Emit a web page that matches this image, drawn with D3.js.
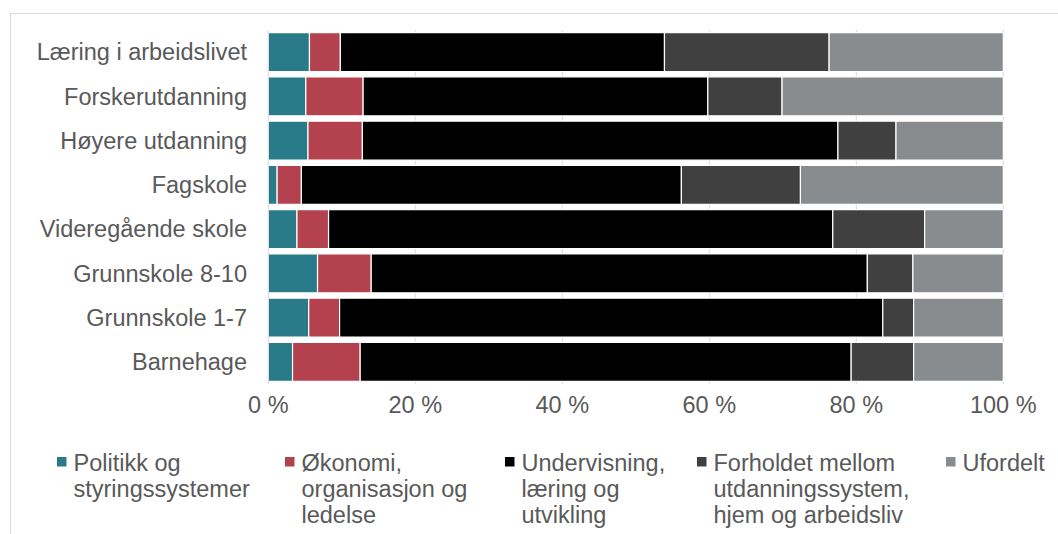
<!DOCTYPE html>
<html>
<head>
<meta charset="utf-8">
<script src="https://cdn.jsdelivr.net/npm/d3@7"></script>
<style>
  body { margin: 0; background: #fff; }
  svg text { font-family: "Liberation Sans", Arial, sans-serif; fill: #595959; }
</style>
</head>
<body>
<svg id="chart" width="1058" height="534"></svg>
<script>
// categories top to bottom
const categories = ['Læring i arbeidslivet', 'Forskerutdanning', 'Høyere utdanning', 'Fagskole',
  'Videregående skole', 'Grunnskole 8-10', 'Grunnskole 1-7', 'Barnehage'];

// share in percent, one array per series
const politikk     = [5.6, 5.1, 5.4, 1.2, 3.9, 6.7, 5.5, 3.3];
const okonomi      = [4.2, 7.8, 7.4, 3.3, 4.3, 7.3, 4.2, 9.2];
const undervisning = [44.1, 46.9, 64.7, 51.7, 68.6, 67.5, 73.9, 66.8];
const forholdet    = [22.4, 10.1, 7.9, 16.2, 12.5, 6.2, 4.2, 8.5];
const ufordelt     = [23.7, 30.1, 14.6, 27.6, 10.7, 12.3, 12.2, 12.2];

const seriesKeys = ['politikk', 'okonomi', 'undervisning', 'forholdet', 'ufordelt'];
const legendLines = [
  ['Politikk og', 'styringssystemer'],
  ['Økonomi,', 'organisasjon og', 'ledelse'],
  ['Undervisning,', 'læring og', 'utvikling'],
  ['Forholdet mellom', 'utdanningssystem,', 'hjem og arbeidsliv'],
  ['Ufordelt']
];
const ticks = [0, 20, 40, 60, 80, 100];

const colors = ['#2a7b8a', '#b3424e', '#000000', '#404040', '#898c8f'];

const table = categories.map((c, i) => ({
  cat: c,
  politikk: politikk[i],
  okonomi: okonomi[i],
  undervisning: undervisning[i],
  forholdet: forholdet[i],
  ufordelt: ufordelt[i]
}));

const svg = d3.select('#chart');

// outer chart frame (runs off the right and bottom)
svg.append('rect')
  .attr('x', 10.5).attr('y', 13.5)
  .attr('width', 1100).attr('height', 600)
  .attr('fill', 'none')
  .attr('stroke', '#d9d9d9');

const x = d3.scaleLinear().domain([0, 100]).range([268.3, 1003.3]);
const y = d3.scaleBand().domain(categories).range([30, 384])
  .paddingInner(0.12).paddingOuter(0.06);

// gridlines
svg.append('g').selectAll('line')
  .data(ticks.slice(1))
  .join('line')
  .attr('x1', d => x(d)).attr('x2', d => x(d))
  .attr('y1', 30).attr('y2', 384)
  .attr('stroke', '#d9d9d9')
  .attr('stroke-width', 1);

const stacked = d3.stack().keys(seriesKeys)(table);

svg.append('g').selectAll('g')
  .data(stacked)
  .join('g')
  .attr('fill', (d, i) => colors[i])
  .selectAll('rect')
  .data(d => d)
  .join('rect')
  .attr('x', d => x(d[0]))
  .attr('width', d => x(d[1]) - x(d[0]))
  .attr('y', d => y(d.data.cat))
  .attr('height', y.bandwidth())
  .attr('stroke', '#fff')
  .attr('stroke-width', 1.2);

// left axis line
svg.append('line')
  .attr('x1', x(0)).attr('x2', x(0))
  .attr('y1', 30).attr('y2', 384)
  .attr('stroke', '#d9d9d9');

// category labels
svg.append('g').selectAll('text')
  .data(categories)
  .join('text')
  .attr('x', 247)
  .attr('y', d => y(d) + y.bandwidth() / 2)
  .attr('dy', '0.35em')
  .attr('text-anchor', 'end')
  .style('font-size', '23.5px')
  .text(d => d);

// x tick labels
svg.append('g').selectAll('text')
  .data(ticks)
  .join('text')
  .attr('x', d => x(d))
  .attr('y', 412.5)
  .attr('text-anchor', 'middle')
  .style('font-size', '23.5px')
  .text(d => d + ' %');

// legend
const legendX = [57, 285, 505, 697, 946];
const leg = svg.append('g').selectAll('g')
  .data(legendLines)
  .join('g')
  .attr('transform', (d, i) => `translate(${legendX[i]},0)`);

leg.append('rect')
  .attr('x', 0).attr('y', 457)
  .attr('width', 9.5).attr('height', 9.5)
  .attr('fill', (d, i) => colors[i]);

leg.append('text')
  .style('font-size', '23.5px')
  .selectAll('tspan')
  .data(d => d)
  .join('tspan')
  .attr('x', 16.5)
  .attr('y', (d, i) => 470.5 + i * 26)
  .text(d => d);
</script>
</body>
</html>
